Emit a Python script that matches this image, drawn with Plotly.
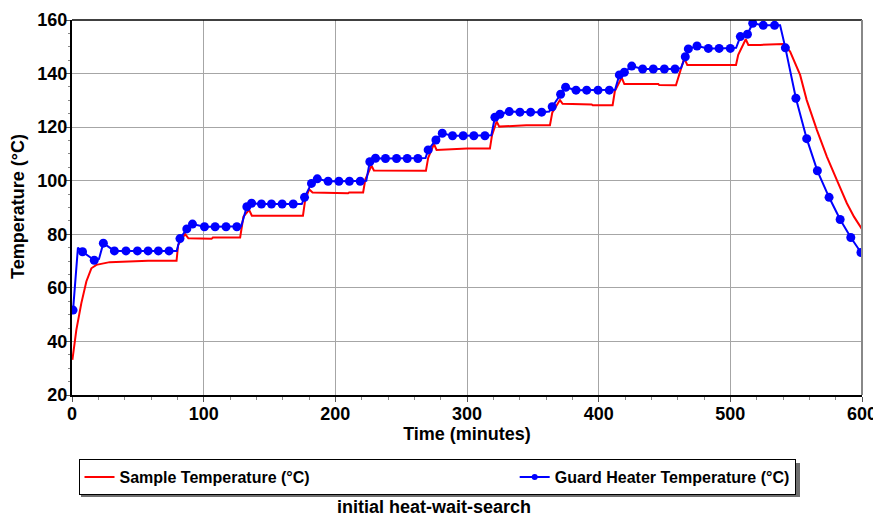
import plotly.graph_objects as go

# ---------------- data ----------------
sample_t = [0.3, 3.3, 7.1, 10.9, 14.7, 18.5, 28.6, 57.8, 79.4,
            80.6, 85.9, 88.4, 106.0, 107.0, 127.7,
            130.2, 134.5, 136.6, 175.4,
            177.0, 180.1, 182.7, 209.7, 210.5, 221.1,
            222.8, 227.5, 229.3, 268.8,
            270.5, 274.9, 276.9, 300.0, 317.4,
            319.0, 322.5, 324.5, 345.0, 363.0,
            364.8, 370.6, 372.6, 394.7, 395.5, 410.6,
            412.3, 417.5, 419.5, 445.3, 446.0, 458.7,
            461.2, 465.0, 467.3, 504.3,
            506.0, 511.7, 513.7, 522.6, 540.3,
            545.4, 553.0, 558.0, 565.7, 573.3, 581.5, 588.5, 594.0, 600.0]
sample_T = [33.1, 44.3, 54.3, 62.4, 67.3, 68.6, 69.6, 70.1, 70.1,
            76.0, 80.1, 78.5, 78.3, 78.8, 78.8,
            86.6, 89.1, 86.9, 86.9,
            92.5, 96.8, 95.6, 95.3, 95.6, 95.6,
            100.5, 105.6, 103.8, 103.7,
            108.5, 113.7, 111.5, 112.0, 112.0,
            117.0, 122.1, 120.2, 120.7, 120.7,
            125.5, 130.1, 128.7, 128.5, 128.2, 128.2,
            133.5, 138.5, 136.1, 136.1, 135.7, 135.6,
            139.5, 145.7, 143.2, 143.2,
            147.0, 152.8, 150.7, 150.7, 151.0,
            148.2, 139.5, 130.1, 119.0, 109.0, 99.6, 91.6, 86.5, 81.9]

# guard heater: sampled points (shown with markers)
guard_t = [0.8, 8.0, 16.9, 23.8, 32.2, 41.0, 49.7, 57.8, 65.6, 73.7,
           82.0, 87.2, 91.5, 100.6, 108.7, 117.0, 125.2,
           132.8, 136.4, 143.9, 151.5, 159.6, 168.0,
           176.6, 181.9, 186.3, 194.5, 202.7, 210.7, 218.9,
           226.2, 230.5, 238.1, 246.5, 254.6, 262.7,
           270.5, 276.4, 281.2, 289.0, 297.1, 305.2, 313.6,
           321.2, 325.0, 332.1, 340.2, 348.3, 356.7,
           364.7, 371.1, 374.9, 382.8, 390.9, 399.5, 408.1,
           415.7, 419.5, 425.1, 433.4, 441.5, 449.9, 458.0,
           465.8, 468.1, 474.7, 483.3, 491.5, 500.0,
           507.6, 513.0, 517.0, 525.0, 533.6,
           541.8, 549.8, 558.0, 566.1, 575.0, 583.4, 591.5, 599.2]
guard_T = [51.7, 73.5, 70.3, 76.7, 73.8, 73.8, 73.8, 73.8, 73.8, 73.8,
           78.4, 82.0, 83.8, 82.8, 82.8, 82.8, 82.8,
           90.3, 91.6, 91.3, 91.3, 91.3, 91.3,
           93.8, 99.0, 100.7, 99.8, 99.8, 99.8, 99.8,
           107.1, 108.4, 108.3, 108.3, 108.3, 108.3,
           111.5, 115.2, 117.7, 116.8, 116.8, 116.8, 116.8,
           123.7, 124.8, 125.8, 125.6, 125.6, 125.6,
           127.6, 132.3, 134.9, 133.8, 133.8, 133.8, 133.8,
           139.5, 140.5, 142.8, 141.7, 141.7, 141.7, 141.7,
           146.3, 149.2, 150.3, 149.4, 149.4, 149.4,
           153.8, 154.7, 158.8, 158.0, 158.0,
           149.6, 130.8, 115.7, 103.7, 93.8, 85.5, 78.8, 73.2]
# guard heater: intermediate line vertices (no marker)
guard_corner_t = [4.5, 20.5, 79.5, 128.5, 174.5, 223.5, 268.5, 318.5, 362.5, 412.5, 462.5, 504.4, 537.8]
guard_corner_T = [75.0, 70.8, 73.8, 83.0, 91.3, 100.0, 108.5, 117.0, 125.8, 134.0, 142.0, 149.6, 158.0]

x_ticks = [0, 100, 200, 300, 400, 500, 600]
y_ticks = [20, 40, 60, 80, 100, 120, 140, 160]

# merged guard heater line
guard_line = sorted(list(zip(guard_t, guard_T)) + list(zip(guard_corner_t, guard_corner_T)))
guard_line_t = [p[0] for p in guard_line]
guard_line_T = [p[1] for p in guard_line]

FONT = "Liberation Sans, Arial, sans-serif"
RED = "#ff0000"
BLUE = "#0000ff"
PAD = "\u00a0" * 45

# page body has an 8px margin: the figure is 8px smaller so the plot lands where the reference has it
W, H = 873, 511
ML, MR, MT, MB = 64, 19, 12, 124
PW, PH = W - ML - MR, H - MT - MB


def px_x(x):  # absolute page x -> paper x
    return (x - 8 - ML) / PW


def px_y(y):  # absolute page y -> paper y
    return (H - MB + 8 - y) / PH


fig = go.Figure()
fig.add_trace(go.Scatter(x=sample_t, y=sample_T, mode="lines",
                         line=dict(color=RED, width=2),
                         name="Sample Temperature (°C)" + PAD, showlegend=True))
fig.add_trace(go.Scatter(x=guard_line_t, y=guard_line_T, mode="lines",
                         line=dict(color=BLUE, width=2), showlegend=False,
                         hoverinfo="skip"))
fig.add_trace(go.Scatter(x=guard_t, y=guard_T, mode="markers",
                         marker=dict(color=BLUE, size=9), showlegend=False))
fig.add_trace(go.Scatter(x=[None], y=[None], mode="lines+markers",
                         line=dict(color=BLUE, width=2), marker=dict(color=BLUE, size=6),
                         name="Guard Heater Temperature (°C)"))

fig.update_layout(
    width=W, height=H,
    margin=dict(l=ML, r=MR, t=MT, b=MB, autoexpand=False),
    paper_bgcolor="white", plot_bgcolor="white",
    font=dict(family=FONT, size=18, color="black", weight="bold"),
    xaxis=dict(range=[0, 600], tickvals=x_ticks, ticktext=[str(v) for v in x_ticks],
               tickangle=0, ticklabelstandoff=-4,
               showgrid=True, gridcolor="#a6a6a6", gridwidth=1,
               showline=True, linecolor="black", linewidth=2,
               ticks="outside", ticklen=5, tickcolor="#555555",
               minor=dict(dtick=20, ticks="outside", ticklen=3, tickcolor="#888888", showgrid=False),
               zeroline=False,
               title=dict(text="Time (minutes)", standoff=2,
                          font=dict(family=FONT, size=18, weight="bold"))),
    yaxis=dict(range=[20, 160], tickvals=y_ticks, ticktext=[str(v) for v in y_ticks],
               ticklabelstandoff=-5,
               showgrid=True, gridcolor="#a6a6a6", gridwidth=1,
               showline=True, linecolor="black", linewidth=2,
               ticks="outside", ticklen=4, tickcolor="#555555",
               minor=dict(dtick=5, ticks="outside", ticklen=2, tickcolor="#888888", showgrid=False),
               zeroline=False),
    legend=dict(orientation="h", xref="container", x=(437 - 8) / W, xanchor="center",
                yref="paper", y=px_y(459), yanchor="top",
                bgcolor="white", bordercolor="black", borderwidth=1,
                font=dict(family=FONT, size=16, weight="bold"),
                traceorder="normal"),
    shapes=[
        dict(type="line", xref="paper", yref="paper", x0=0, x1=1, y0=1, y1=1,
             line=dict(color="black", width=1.5), layer="above"),
        dict(type="line", xref="paper", yref="paper", x0=1, x1=1, y0=0, y1=1,
             line=dict(color="#888888", width=2), layer="above"),
        # legend drop shadow
        dict(type="rect", xref="paper", yref="paper",
             x0=px_x(81), x1=px_x(800), y0=px_y(497), y1=px_y(463),
             fillcolor="#6e6e6e", line=dict(width=0), layer="above"),
    ],
    annotations=[
        dict(text="Temperature (°C)", xref="paper", yref="paper",
             x=px_x(18), y=px_y(207), xanchor="center", yanchor="middle", textangle=-90,
             showarrow=False, font=dict(family=FONT, size=18, weight="bold")),
        dict(text="initial heat-wait-search", xref="paper", yref="paper",
             x=px_x(434), y=px_y(507), xanchor="center", yanchor="middle",
             showarrow=False, font=dict(family=FONT, size=18, weight="bold")),
    ],
)

fig.write_html("out.html")
